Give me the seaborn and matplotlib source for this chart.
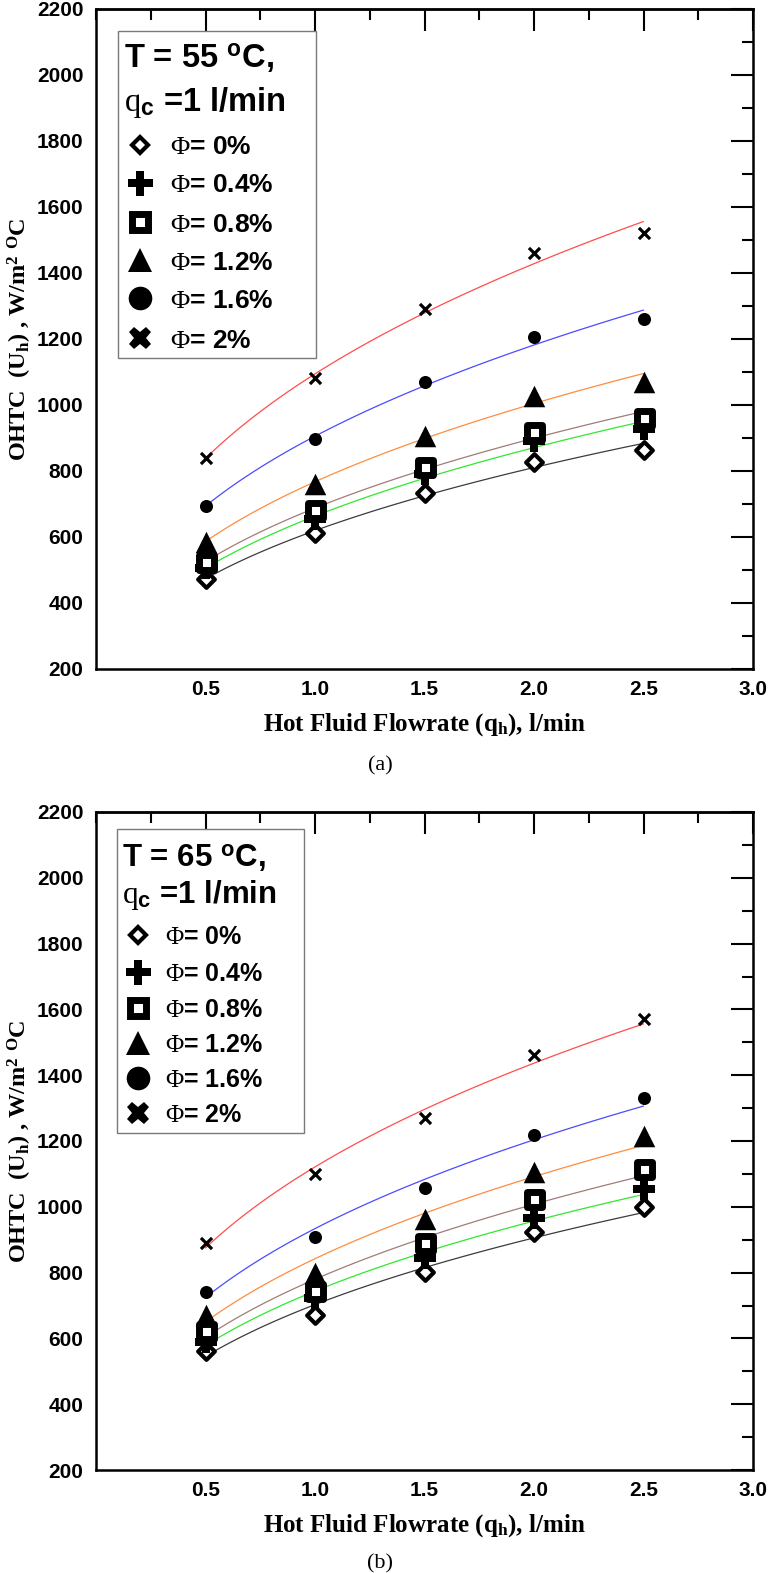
import numpy as np
import pandas as pd
import matplotlib
matplotlib.use("Agg")
import matplotlib.pyplot as plt
import seaborn as sns
from matplotlib.markers import MarkerStyle
from matplotlib.lines import Line2D
from matplotlib.patches import Rectangle
from matplotlib.ticker import FixedLocator, MultipleLocator, FormatStrFormatter, NullFormatter

sns.set_theme(style="white")
plt.rcParams['font.family'] = ['Liberation Sans', 'DejaVu Sans']
plt.rcParams['mathtext.fontset'] = 'custom'
plt.rcParams['mathtext.rm'] = 'Liberation Serif'
plt.rcParams['mathtext.it'] = 'Liberation Serif:italic'
plt.rcParams['mathtext.bf'] = 'Liberation Serif:bold'

# ---------------- data ----------------
FLOW = [0.5, 1.0, 1.5, 2.0, 2.5]
PHI_LABELS = ["0%", "0.4%", "0.8%", "1.2%", "1.6%", "2%"]

A_PHI_0 = [473, 613, 733, 828, 865]
A_PHI_04 = [505, 655, 790, 890, 928]
A_PHI_08 = [525, 682, 813, 918, 960]
A_PHI_12 = [585, 762, 907, 1028, 1070]
A_PHI_16 = [693, 897, 1070, 1207, 1260]
A_PHI_20 = [838, 1083, 1292, 1461, 1522]

B_PHI_0 = [561, 672, 801, 922, 998]
B_PHI_04 = [590, 724, 845, 967, 1054]
B_PHI_08 = [622, 744, 889, 1025, 1115]
B_PHI_12 = [672, 800, 962, 1105, 1216]
B_PHI_16 = [740, 909, 1057, 1218, 1330]
B_PHI_20 = [889, 1099, 1269, 1460, 1570]

TEMPS = ["55", "65"]
PANEL_TAGS = ["(a)", "(b)"]
Y_TICKS = [200, 400, 600, 800, 1000, 1200, 1400, 1600, 1800, 2000, 2200]
X_TICKS = [0.5, 1.0, 1.5, 2.0, 2.5, 3.0]

PANELS = [
    [A_PHI_0, A_PHI_04, A_PHI_08, A_PHI_12, A_PHI_16, A_PHI_20],
    [B_PHI_0, B_PHI_04, B_PHI_08, B_PHI_12, B_PHI_16, B_PHI_20],
]

# ---------------- styles ----------------
FIT_COLORS = ['#3c3c3c', '#2fe82f', '#a07c78', '#ff8c3f', '#4b4bff', '#ff4d4d']
DATA_STYLE = [
    dict(marker=MarkerStyle('D', joinstyle='miter'), s=8.5 ** 2, color='white', edgecolor='black', linewidth=3),
    dict(marker=MarkerStyle('P'), s=15.8 ** 2, color='black', linewidth=0),
    dict(marker=MarkerStyle('s', joinstyle='miter'), s=10.8 ** 2, color='white', edgecolor='black', linewidth=5),
    dict(marker=MarkerStyle('^'), s=15.5 ** 2, color='black', linewidth=0),
    dict(marker=MarkerStyle('o'), s=9.4 ** 2, color='black', linewidth=0),
    dict(marker=MarkerStyle('x'), s=8 ** 2, color='black', linewidth=2.3),
]
LEG_STYLE = [
    dict(marker='D', ms=8.5, mew=3, mfc='white', mec='black'),
    dict(marker='P', ms=18, mew=0, mfc='black', mec='black'),
    dict(marker='s', ms=11, mew=5, mfc='white', mec='black'),
    dict(marker='^', ms=17, mew=0, mfc='black', mec='black'),
    dict(marker='o', ms=17, mew=0, mfc='black', mec='black'),
    dict(marker='X', ms=16, mew=0, mfc='black', mec='black'),
]

W, H = 768, 1573
fig = plt.figure(figsize=(W / 100, H / 100), dpi=100)
fig.patch.set_facecolor('white')


def fp(x, y):
    return (x / W, 1 - y / H)


AX_BOX = [(96, 9, 753, 669), (96, 812, 753, 1470)]
LEGEND_GEOM = [
    dict(box=(118, 31, 316, 358), hx=124, hy=(68, 111), hfs=23.5,
         mx=140, tx=170, ey=[145, 183, 222, 260, 298, 338], efs=19),
    dict(box=(117, 829, 304, 1133), hx=122, hy=(867, 903), hfs=22.5,
         mx=138, tx=165, ey=[935, 972, 1008, 1043, 1078, 1113], efs=18),
]
CAPTION_Y = [766, 1564]

serif_bold = dict(family='Liberation Serif', weight='bold', size=18)

for p, series in enumerate(PANELS):
    x0, y0, x1, y1 = AX_BOX[p]
    ax = fig.add_axes([x0 / W, 1 - y1 / H, (x1 - x0) / W, (y1 - y0) / H])
    ax.set_facecolor('white')

    xf = np.linspace(FLOW[0], FLOW[-1], 120)
    for i, vals in enumerate(series):
        # power-law fit of each series (trend curve)
        b, a = np.polyfit(np.log(FLOW), np.log(vals), 1)
        yf = np.exp(a) * xf ** b
        sns.lineplot(x=xf, y=yf, ax=ax, color=FIT_COLORS[i], linewidth=0.9, zorder=2)
    for i, vals in enumerate(series):
        df = pd.DataFrame({'q': FLOW, 'U': vals})
        sns.scatterplot(data=df, x='q', y='U', ax=ax, zorder=3 + i, legend=False, **DATA_STYLE[i])

    ax.set_xlim(0, 3.0)
    ax.set_ylim(200, 2200)
    ax.xaxis.set_major_locator(FixedLocator(X_TICKS))
    ax.xaxis.set_minor_locator(FixedLocator([0.75, 1.25, 1.75, 2.25, 2.75]))
    ax.xaxis.set_major_formatter(FormatStrFormatter('%.1f'))
    ax.yaxis.set_major_locator(FixedLocator(Y_TICKS))
    ax.yaxis.set_minor_locator(MultipleLocator(100))
    ax.tick_params(which='both', direction='in', top=False, right=True, width=1.5, color='black')
    ax.tick_params(which='major', length=15.6)
    ax.tick_params(which='minor', length=7.8)
    ax.tick_params(axis='y', which='major', pad=9, labelsize=15)
    ax.tick_params(axis='x', which='major', pad=8, labelsize=15)
    for lab in ax.get_xticklabels() + ax.get_yticklabels():
        lab.set_fontweight('bold')
        lab.set_color('black')
    for sp in ax.spines.values():
        sp.set_linewidth(1.8)
        sp.set_color('black')
        sp.set_visible(True)

    top = ax.secondary_xaxis('top')
    top.xaxis.set_major_locator(FixedLocator(X_TICKS))
    top.xaxis.set_minor_locator(MultipleLocator(0.25))
    top.xaxis.set_major_formatter(NullFormatter())
    top.tick_params(which='both', direction='in', width=1.5, color='black')
    top.tick_params(which='major', length=15.6)
    top.tick_params(which='minor', length=7.8)
    top.spines['top'].set_linewidth(1.8)

    ax.set_xlabel(r"Hot Fluid Flowrate (q$_{\mathregular{h}}$), l/min", fontdict=serif_bold,
                  labelpad=8.5, color='black')
    ax.set_ylabel(r"OHTC  (U$_{\mathregular{h}}$) , W/m$^{\mathregular{2}}$ $^{\mathregular{O}}$C",
                  fontdict=dict(family='Liberation Serif', weight='bold', size=17.5),
                  labelpad=2, color='black')

    # legend box
    g = LEGEND_GEOM[p]
    bx0, by0, bx1, by1 = g['box']
    fig.add_artist(Rectangle(fp(bx0, by1), (bx1 - bx0) / W, (by1 - by0) / H,
                             transform=fig.transFigure, facecolor='white',
                             edgecolor='#7a7a7a', linewidth=1.0, zorder=5))
    fig.text(*fp(g['hx'], g['hy'][0]), r"T = " + TEMPS[p] + r" $^{\mathregular{o}}$C,",
             fontsize=g['hfs'], fontweight='bold', va='baseline', ha='left', zorder=6, color='black')
    fig.text(*fp(g['hx'], g['hy'][1]), r"$\mathrm{q}_{\mathregular{c}}$ =1 l/min",
             fontsize=g['hfs'], fontweight='bold', va='baseline', ha='left', zorder=6, color='black')
    for i, lab in enumerate(PHI_LABELS):
        cy = g['ey'][i]
        fig.add_artist(Line2D([fp(g['mx'], cy)[0]], [fp(g['mx'], cy)[1]], transform=fig.transFigure,
                              linestyle='none', zorder=7, **LEG_STYLE[i]))
        fig.text(*fp(g['tx'], cy + g['efs'] * 0.5), r"$\mathrm{\Phi}$= " + lab,
                 fontsize=g['efs'], fontweight='bold', va='baseline', ha='left', zorder=6, color='black')

    fig.text(*fp(380, CAPTION_Y[p]), PANEL_TAGS[p], family='Liberation Serif', fontsize=16,
             ha='center', va='center', color='black')

fig.savefig('out.png', dpi=100, facecolor='white')
